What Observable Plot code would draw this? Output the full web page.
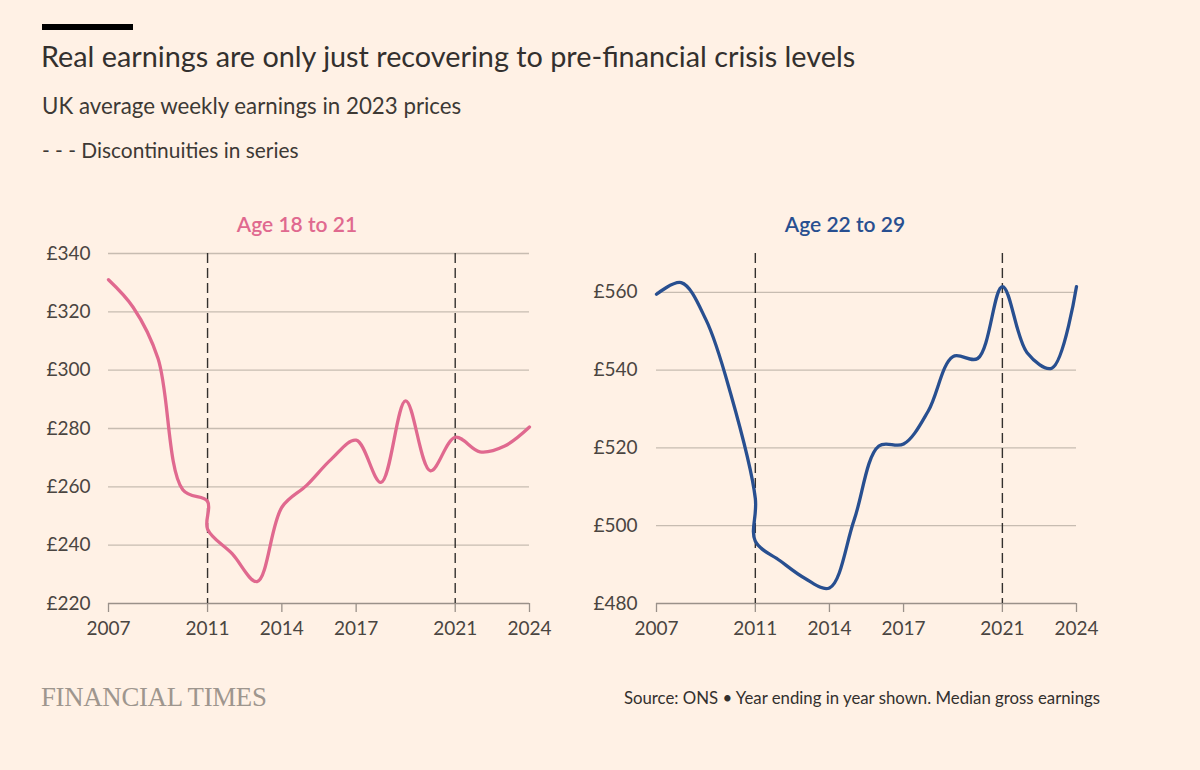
<!DOCTYPE html>
<html>
<head>
<meta charset="utf-8">
<script src="https://cdn.jsdelivr.net/npm/d3@7"></script>
<script src="https://cdn.jsdelivr.net/npm/@observablehq/plot@0.6"></script>
<style>
  html, body { margin: 0; padding: 0; background: #fff1e5; }
  #page { position: relative; width: 1200px; height: 770px; background: #fff1e5; font-family: Lato, "Open Sans", sans-serif; color: #33302e; overflow: hidden; }
  .t { position: absolute; white-space: nowrap; line-height: 1; }
  .panel { position: absolute; }
</style>
</head>
<body>
<div id="page">
  <div style="position:absolute;left:42px;top:24px;width:91px;height:6px;background:#000;"></div>
  <div class="t" id="title" style="left:41px;top:42px;font-size:28.8px;color:#33302e;">Real earnings are only just recovering to pre-financial crisis levels</div>
  <div class="t" id="subtitle" style="left:42px;top:95px;font-size:22.3px;color:#3d3935;">UK average weekly earnings in 2023 prices</div>
  <div class="t" id="legend" style="left:42px;top:140px;font-size:20.9px;color:#3d3935;">- - - Discontinuities in series</div>
  <div class="t" id="lt" style="left:147px;width:300px;text-align:center;top:213px;font-size:21px;font-weight:600;color:#e0698f;">Age 18 to 21</div>
  <div class="t" id="rt" style="left:695px;width:300px;text-align:center;top:213px;font-size:21px;font-weight:600;color:#284f90;">Age 22 to 29</div>
  <div class="panel" id="left" style="left:40px;top:240px;"></div>
  <div class="panel" id="right" style="left:580px;top:240px;"></div>
  <div class="t" style="left:41px;top:684px;font-family:'Liberation Serif', serif;font-size:26.8px;color:#9e968e;letter-spacing:-0.3px;">FINANCIAL TIMES</div>
  <div class="t" style="right:100px;top:690px;font-size:16.8px;color:#33302e;">Source: ONS • Year ending in year shown. Median gross earnings</div>
</div>
<script>
// Data. Duplicate 2011 = break in series (old, new).
const years = [2007, 2008, 2009, 2010, 2011, 2011, 2012, 2013, 2014, 2015, 2016, 2017, 2018, 2019, 2020, 2021, 2022, 2023, 2024];
const age18to21 = [331, 321.5, 304, 259, 255, 245.5, 237, 227.5, 253, 260.5, 269.5, 276, 261.5, 289.5, 265.5, 277, 272, 274, 280.5];
const age22to29 = [559.5, 562.5, 553, 534, 507, 496, 491, 486.5, 484, 501.5, 520.5, 521, 529.5, 543.5, 543, 561.5, 544.5, 540.5, 561.5];
const xTicks = [2007, 2011, 2014, 2017, 2021, 2024];
const breaks = [2011, 2021];
const leftYTicks = [220, 240, 260, 280, 300, 320, 340];
const rightYTicks = [480, 500, 520, 540, 560];

function panel({values, color, yDomain, yTicks, width, marginLeft, marginRight, tickPadding}) {
  const data = years.map((y, i) => ({year: y, value: values[i]}));
  return Plot.plot({
    width, height: 410,
    marginTop: 13, marginBottom: 47, marginLeft, marginRight,
    style: {background: "transparent", fontFamily: "Lato, sans-serif", fontSize: "19px", color: "#4a4541", overflow: "visible"},
    x: {domain: [2007, 2024]},
    y: {domain: yDomain},
    marks: [
      Plot.ruleY(yTicks.slice(1), {stroke: "#c7bcb1", strokeWidth: 1.3}),
      Plot.ruleY([yDomain[0]], {stroke: "#9a918a", strokeWidth: 1.3}),
      Plot.axisY({ticks: yTicks, tickSize: 0, tickPadding, tickFormat: d => "£" + d, fill: "#4a4541", label: null}),
      Plot.axisX({ticks: xTicks, tickSize: 9, tickPadding: 9, tickFormat: d => String(d), stroke: "#9a918a", strokeWidth: 1.3, fill: "#4a4541", label: null}),
      Plot.ruleX(breaks, {stroke: "#33302e", strokeWidth: 1.4, strokeDasharray: "10,5"}),
      Plot.line(data, {x: "year", y: "value", stroke: color, strokeWidth: 3.3, curve: "catmull-rom"})
    ]
  });
}

document.getElementById("left").append(panel({
  values: age18to21, color: "#e0698f", yDomain: [220, 340], yTicks: leftYTicks,
  width: 500, marginLeft: 68, marginRight: 11, tickPadding: 18
}));
document.getElementById("right").append(panel({
  values: age22to29, color: "#284f90", yDomain: [480, 570], yTicks: rightYTicks,
  width: 510, marginLeft: 76, marginRight: 14, tickPadding: 19
}));
</script>
</body>
</html>
